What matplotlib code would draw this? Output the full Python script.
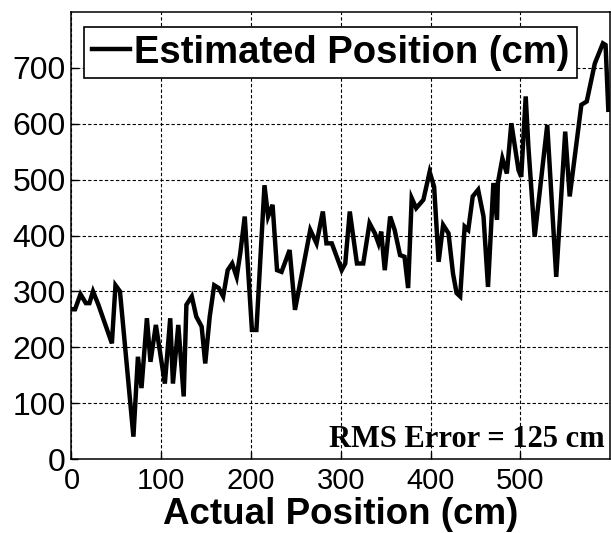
import matplotlib
matplotlib.use("Agg")
import matplotlib.pyplot as plt

# ── Data ──────────────────────────────────────────────────────────────────────
actual_cm = [2, 4, 10, 16, 20, 24, 30, 45, 49, 54, 69, 74, 78, 84, 88, 94,
             104, 110, 113, 119, 125, 128, 134, 139, 145, 149, 154, 159, 164,
             169, 174, 179, 184, 188, 193, 201, 206, 215, 219, 224, 229, 234,
             243, 249, 266, 273, 280, 284, 290, 301, 305, 310, 318, 325, 332,
             338, 342, 345, 349, 355, 360, 366, 371, 375, 379, 384, 392, 399,
             404, 409, 414, 420, 425, 429, 433, 438, 442, 447, 453, 459, 464,
             470, 474, 475, 480, 485, 490, 498, 501, 506, 509, 516, 530, 540,
             550, 555, 568, 574, 583, 592, 595, 598]
estimated_cm = [268, 268, 295, 279, 279, 300, 276, 207, 311, 300, 40, 183,
                127, 252, 174, 240, 135, 252, 135, 240, 112, 276, 291, 255,
                237, 171, 255, 311, 306, 291, 338, 350, 326, 368, 434, 231,
                231, 490, 434, 455, 338, 335, 374, 267, 410, 386, 443, 386,
                386, 338, 350, 443, 350, 350, 422, 404, 386, 407, 338, 434,
                410, 365, 362, 306, 467, 449, 464, 514, 487, 353, 419, 404,
                332, 297, 291, 416, 410, 470, 482, 434, 308, 494, 428, 494,
                538, 511, 601, 517, 505, 649, 559, 398, 598, 326, 586, 470,
                634, 640, 708, 744, 741, 625]

x_ticks = [0, 100, 200, 300, 400, 500]
y_ticks = [0, 100, 200, 300, 400, 500, 600, 700]
rms_text = "RMS Error = 125 cm"

# ── Figure ────────────────────────────────────────────────────────────────────
plt.rcParams["font.family"] = ["Liberation Sans", "DejaVu Sans"]

fig = plt.figure(figsize=(6.11, 5.33), dpi=100, facecolor="white")
ax = fig.add_axes([0.117, 0.1388, 0.8815, 0.8386])

ax.plot(actual_cm, estimated_cm, color="black", linewidth=3.2,
        solid_joinstyle="miter", label="Estimated Position (cm)")

ax.set_xlim(0, 600)
ax.set_ylim(0, 800)
ax.set_xticks(x_ticks)
ax.set_yticks(y_ticks)
ax.tick_params(direction="in", length=5, width=1, top=False, right=False)
ax.tick_params(axis="x", pad=6, labelsize=21)
ax.tick_params(axis="y", pad=4, labelsize=23)
for sp in ax.spines.values():
    sp.set_linewidth(1.1)
    sp.set_color("black")

ax.grid(True, color="black", linestyle=(0, (3, 2)), linewidth=0.8)
ax.set_axisbelow(True)

ax.set_xlabel("Actual Position (cm)", fontsize=26.5, fontweight="bold",
              labelpad=1)

leg = ax.legend(loc="upper left", bbox_to_anchor=(0.0232, 0.9664),
                borderaxespad=0, fancybox=False, framealpha=1,
                edgecolor="black", handlelength=1.0, handletextpad=0.1,
                borderpad=0.2, prop={"size": 27.5, "weight": "bold"})
leg.get_frame().set_linewidth(1.2)

ax.text(0.99, 0.027, rms_text, transform=ax.transAxes, ha="right",
        va="baseline", fontsize=22, fontweight="bold",
        family=["Liberation Serif", "DejaVu Serif"])

fig.savefig("out.png", dpi=100, facecolor="white")
